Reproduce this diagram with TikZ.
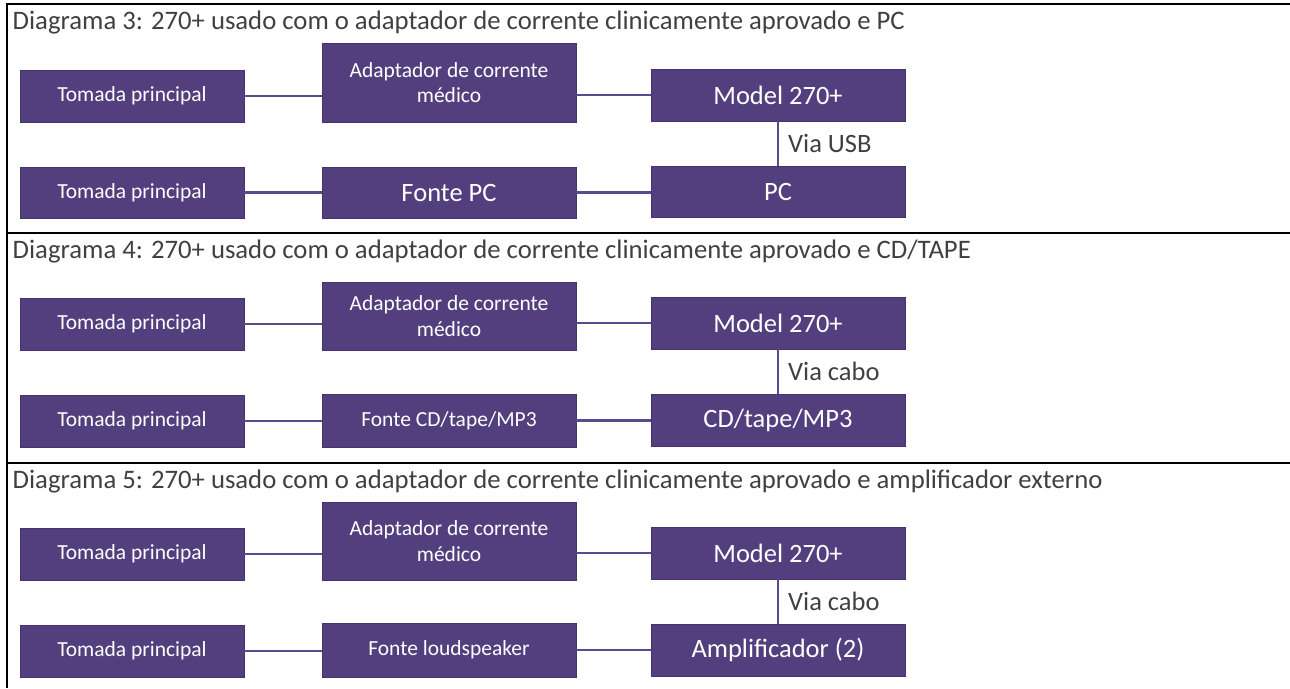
\documentclass[tikz,border=0pt]{standalone}
\usepackage{fontspec}
\setmainfont{Carlito}
\definecolor{boxfill}{HTML}{533F7E}
\definecolor{boxedge}{HTML}{45336D}
\definecolor{connc}{HTML}{5B4A8C}
\definecolor{titlec}{HTML}{404040}
\begin{document}
\begin{tikzpicture}[x=1pt,y=-1pt,
  box/.style={draw=boxedge, fill=boxfill, text=white, inner sep=0pt, align=center, line width=0.8pt},
  small/.style={font=\fontsize{21.5}{25.5}\selectfont},
  big/.style={font=\fontsize{26.5}{30}\selectfont},
  wbox/.style={box, minimum width=254pt},
  tbox/.style={box, small, minimum width=224pt, minimum height=52pt},
  conn/.style={draw=connc, line width=2.5pt},
  vconn/.style={draw=connc, line width=2pt},
  title/.style={anchor=base west, inner sep=0pt, text=titlec, font=\fontsize{26.7}{30}\selectfont},
  lab/.style={anchor=west, inner sep=0pt, text=titlec, font=\fontsize{26.5}{30}\selectfont},
  frame/.style={draw=black, line width=2.5pt}]
\useasboundingbox (0,0) rectangle (1290,688);
% frame lines
\draw[frame] (7,4) -- (1290,4);
\draw[frame] (7,233) -- (1290,233);
\draw[frame] (7,463) -- (1290,463);
\draw[frame] (7,2.75) -- (7,688);

% ---------- Panel 1 ----------
\node[title] (ti1) at (12.5,29.5) {Diagrama 3: 270+ usado com o adaptador de corrente clinicamente aprovado e PC};
\node[tbox] (t1a) at (132,96) {Tomada principal};
\node[wbox, small, minimum height=79pt] (a1) at (449,82.5) {Adaptador de corrente\\médico};
\node[wbox, big, minimum height=52pt] (m1) at (778,95) {Model 270+};
\node[tbox, minimum height=51pt] (t1b) at (132,192.5) {Tomada principal};
\node[wbox, big, minimum height=51pt] (f1) at (449,192.5) {Fonte PC};
\node[wbox, big, minimum height=51pt] (p1) at (778,191.5) {PC};
\draw[conn] (t1a.east) -- (t1a.east -| a1.west);
\draw[conn] (m1.west -| a1.east) -- (m1.west);
\draw[conn] (t1b.east) -- (f1.west);
\draw[conn] (f1.east) -- (f1.east -| p1.west);
\draw[vconn] (m1.south) -- (p1.north);
\node[lab] (l1) at (788,143.5) {Via USB};

% ---------- Panel 2 ----------
\node[title] (ti2) at (12.5,258.5) {Diagrama 4: 270+ usado com o adaptador de corrente clinicamente aprovado e CD/TAPE};
\node[tbox] (t2a) at (132,324) {Tomada principal};
\node[wbox, small, minimum height=68pt] (a2) at (449,316) {Adaptador de corrente\\médico};
\node[wbox, big, minimum height=52pt] (m2) at (778,323) {Model 270+};
\node[tbox] (t2b) at (132,421) {Tomada principal};
\node[wbox, small, minimum height=53pt] (f2) at (449,420.5) {Fonte CD/tape/MP3};
\node[wbox, big, minimum height=52pt] (c2) at (778,420) {CD/tape/MP3};
\draw[conn] (t2a.east) -- (t2a.east -| a2.west);
\draw[conn] (m2.west -| a2.east) -- (m2.west);
\draw[conn] (t2b.east) -- (t2b.east -| f2.west);
\draw[conn] (f2.east) -- (f2.east -| c2.west);
\draw[vconn] (m2.south) -- (c2.north);
\node[lab] (l2) at (788,371.5) {Via cabo};

% ---------- Panel 3 ----------
\node[title] (ti3) at (12.5,488.5) {Diagrama 5: 270+ usado com o adaptador de corrente clinicamente aprovado e amplificador externo};
\node[tbox] (t3a) at (132,554) {Tomada principal};
\node[wbox, small, minimum height=78pt] (a3) at (449,541) {Adaptador de corrente\\médico};
\node[wbox, big, minimum height=52pt] (m3) at (778,553) {Model 270+};
\node[tbox] (t3b) at (132,651) {Tomada principal};
\node[wbox, small, minimum height=54pt] (f3) at (449,650) {Fonte loudspeaker};
\node[wbox, big, minimum height=52pt] (amp) at (778,650) {Amplificador (2)};
\draw[conn] (t3a.east) -- (t3a.east -| a3.west);
\draw[conn] (m3.west -| a3.east) -- (m3.west);
\draw[conn] (t3b.east) -- (t3b.east -| f3.west);
\draw[conn] (f3.east) -- (f3.east -| amp.west);
\draw[vconn] (m3.south) -- (amp.north);
\node[lab] (l3) at (788,601.5) {Via cabo};
\end{tikzpicture}
\end{document}
